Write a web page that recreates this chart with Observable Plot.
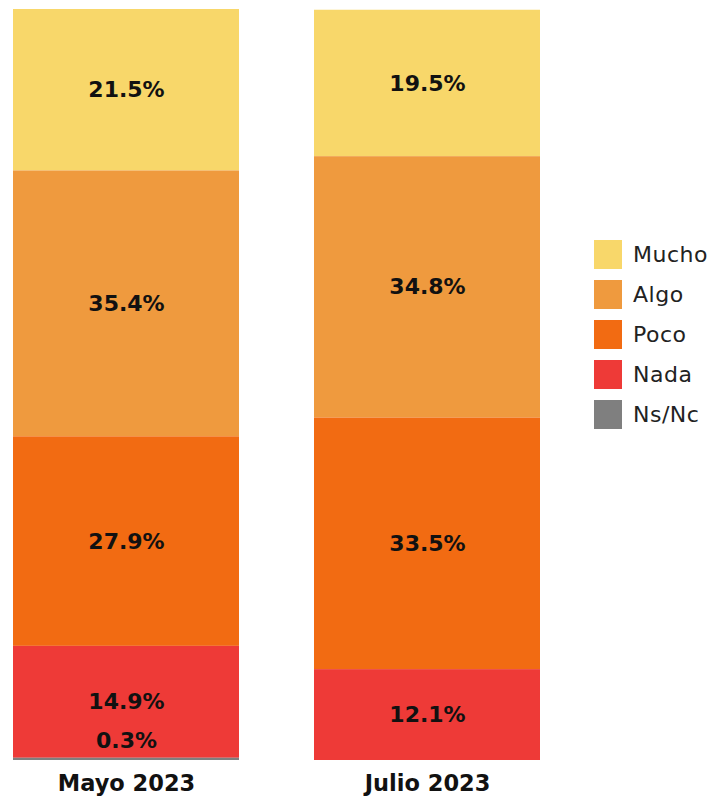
<!DOCTYPE html>
<html><head><meta charset="utf-8">
<script src="https://cdn.jsdelivr.net/npm/d3@7"></script>
<script src="https://cdn.jsdelivr.net/npm/@observablehq/plot@0.6"></script>
<style>
body{margin:0;background:#fff;font-family:"DejaVu Sans",sans-serif;}
#wrap{position:relative;width:718px;height:800px;}
#legend{position:absolute;left:594px;top:234px;}
.li{display:flex;align-items:center;height:40px;}
.sw{width:28px;height:29px;margin-right:11px;}
.lt{font-size:22px;color:#222;letter-spacing:0.5px;}
</style></head>
<body><div id="wrap"><div id="chart"></div><div id="legend"></div></div>
<script>
const categories = ["Mayo 2023", "Julio 2023"];
const series = ["Mucho", "Algo", "Poco", "Nada", "Ns/Nc"];
const colors = ["#F8D76A", "#EF9A3E", "#F26B12", "#EE3A37", "#7F7F7F"];
const mayo = [21.5, 35.4, 27.9, 14.9, 0.3];
const julio = [19.5, 34.8, 33.5, 12.1, 0.0];

const values = [mayo, julio];
const data = [];
categories.forEach((c, i) => series.forEach((s, j) => data.push({cat: c, series: s, value: values[i][j]})));
const order = series.slice().reverse();

const chart = Plot.plot({
  width: 718, height: 800,
  marginLeft: 12, marginRight: 178, marginTop: 9, marginBottom: 40,
  style: {fontFamily: "DejaVu Sans, sans-serif", background: "#fff"},
  x: {domain: categories, paddingInner: 0.25, paddingOuter: 0, label: null},
  y: {domain: [0, 100], axis: null},
  color: {domain: series, range: colors},
  marks: [
    Plot.barY(data, Plot.stackY({x: "cat", y: "value", z: "series", order, fill: "series"})),
    Plot.text(data, Plot.stackY({x: "cat", y: "value", z: "series", order,
      text: d => d.value >= 1 ? d.value.toFixed(1) + "%" : null,
      fontSize: 22, fontWeight: "bold", fill: "#111"})),
    Plot.text(data, Plot.stackY({x: "cat", y: "value", z: "series", order,
      text: d => d.value > 0 && d.value < 1 ? d.value.toFixed(1) + "%" : null,
      dy: -18, fontSize: 22, fontWeight: "bold", fill: "#111"})),
    Plot.axisX({tickSize: 0, tickPadding: 15, fontSize: 22.5, fontWeight: "bold", fill: "#111", label: null})
  ]
});
document.getElementById("chart").appendChild(chart);

const leg = document.getElementById("legend");
series.forEach((s, i) => {
  const row = document.createElement("div");
  row.className = "li";
  row.innerHTML = `<div class="sw" style="background:${colors[i]}"></div><span class="lt">${s}</span>`;
  leg.appendChild(row);
});
</script></body></html>
